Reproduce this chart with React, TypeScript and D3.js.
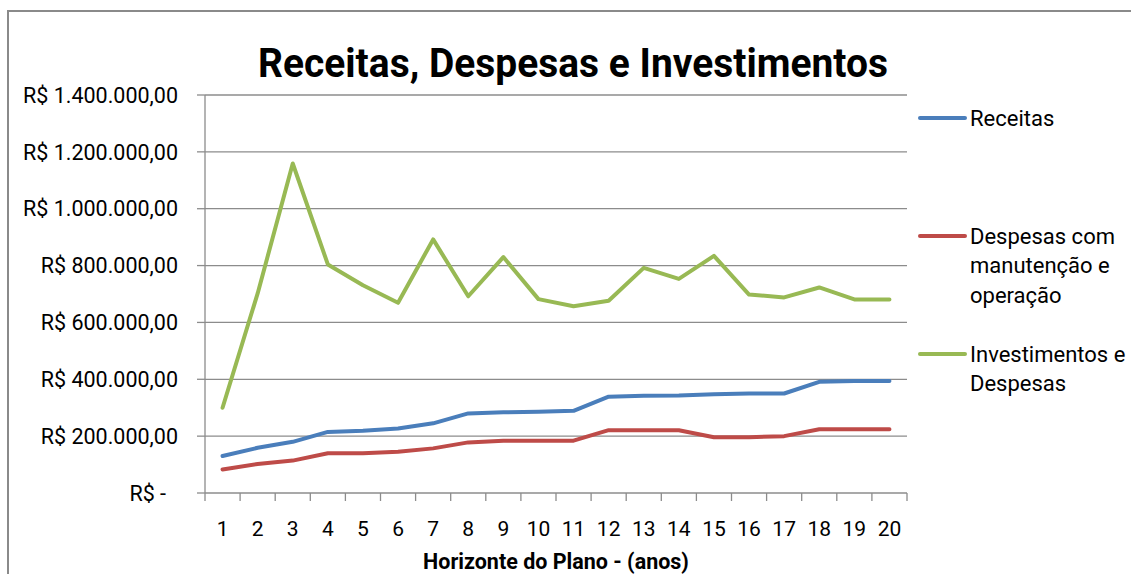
import React from "react";
import * as d3 from "d3";

const years = ["1","2","3","4","5","6","7","8","9","10","11","12","13","14","15","16","17","18","19","20"];
const receitas = [130000,159000,180000,215000,219000,227000,245000,280000,284000,286000,289000,339000,342000,343000,347000,350000,350000,391000,394000,394000];
const despesas = [83000,102000,114000,140000,140000,145000,157000,178000,184000,184000,184000,221000,221000,221000,196000,196000,200000,224000,224000,224000];
const investimentos = [300000,702000,1159000,804000,731000,669000,892000,692000,830000,682000,657000,676000,792000,753000,834000,698000,688000,723000,681000,681000];
const yTickValues = [0,200000,400000,600000,800000,1000000,1200000,1400000];
const yTickLabels = ["R$ -","R$ 200.000,00","R$ 400.000,00","R$ 600.000,00","R$ 800.000,00","R$ 1.000.000,00","R$ 1.200.000,00","R$ 1.400.000,00"];
const seriesNames = [["Receitas"],["Despesas com","manutenção e","operação"],["Investimentos e","Despesas"]];
const seriesColors = ["#4A7EBB","#BE4B48","#98B954"];
const title = "Receitas, Despesas e Investimentos";
const xTitle = "Horizonte do Plano - (anos)";

export default function App() {
  const W = 1131, H = 574;
  const left = 205, right = 907, top = 95, bottom = 493;
  const x = d3.scaleBand<string>().domain(years).range([left, right]);
  const y = d3.scaleLinear().domain([0, 1400000]).range([bottom, top]);
  const cx = (d: string) => (x(d) as number) + x.bandwidth() / 2;
  const line = d3.line<number>().x((_, i) => cx(years[i])).y((v) => y(v));
  const data = [receitas, despesas, investimentos];
  const legendY = [118, 236, 354];
  const font = "Roboto, 'Open Sans', sans-serif";
  const grid = "#8c8c8c";
  return (
    <svg width={W} height={H} style={{ position: "absolute", left: 0, top: 0, background: "#fff" }} fontFamily={font}>
      <rect x={8} y={11} width={W + 20} height={H + 20} fill="#fff" stroke="#8a8a8a" strokeWidth={2} />
      <text x={573} y={77} textAnchor="middle" fontSize={40} fontWeight="bold" fill="#000" textLength={630} lengthAdjust="spacingAndGlyphs">{title}</text>
      {yTickValues.map((v, i) => (
        <g key={v}>
          {v > 0 && <line x1={left} x2={right} y1={y(v)} y2={y(v)} stroke={grid} strokeWidth={1.3} />}
          <line x1={197} x2={left} y1={y(v)} y2={y(v)} stroke={grid} strokeWidth={1.3} />
          <text x={v === 0 ? 166 : 178} y={y(v)} dy="0.36em" textAnchor="end" fontSize={21.5} fill="#000">{yTickLabels[i]}</text>
        </g>
      ))}
      <line x1={left} x2={left} y1={top} y2={bottom} stroke={grid} strokeWidth={1.3} />
      <line x1={left} x2={right} y1={bottom} y2={bottom} stroke={grid} strokeWidth={1.3} />
      {years.map((d) => (
        <line key={"t" + d} x1={x(d)} x2={x(d)} y1={bottom} y2={bottom + 8} stroke={grid} strokeWidth={1.3} />
      ))}
      <line x1={right} x2={right} y1={bottom} y2={bottom + 8} stroke={grid} strokeWidth={1.3} />
      {years.map((d) => (
        <text key={"l" + d} x={cx(d)} y={528} dy="0.36em" textAnchor="middle" fontSize={21} fill="#000">{d}</text>
      ))}
      <text x={(left + right) / 2} y={569} textAnchor="middle" fontSize={21.5} fontWeight="bold" fill="#000">{xTitle}</text>
      {data.map((s, i) => (
        <path key={"s" + i} d={line(s) as string} fill="none" stroke={seriesColors[i]} strokeWidth={4} strokeLinejoin="round" strokeLinecap="round" />
      ))}
      {seriesNames.map((lines, i) => (
        <g key={"g" + i}>
          <line x1={920} x2={965} y1={legendY[i]} y2={legendY[i]} stroke={seriesColors[i]} strokeWidth={4} strokeLinecap="round" />
          {lines.map((t, j) => (
            <text key={t} x={970} y={legendY[i] + j * 29.5} dy="0.36em" fontSize={22} fill="#000">{t}</text>
          ))}
        </g>
      ))}
    </svg>
  );
}
